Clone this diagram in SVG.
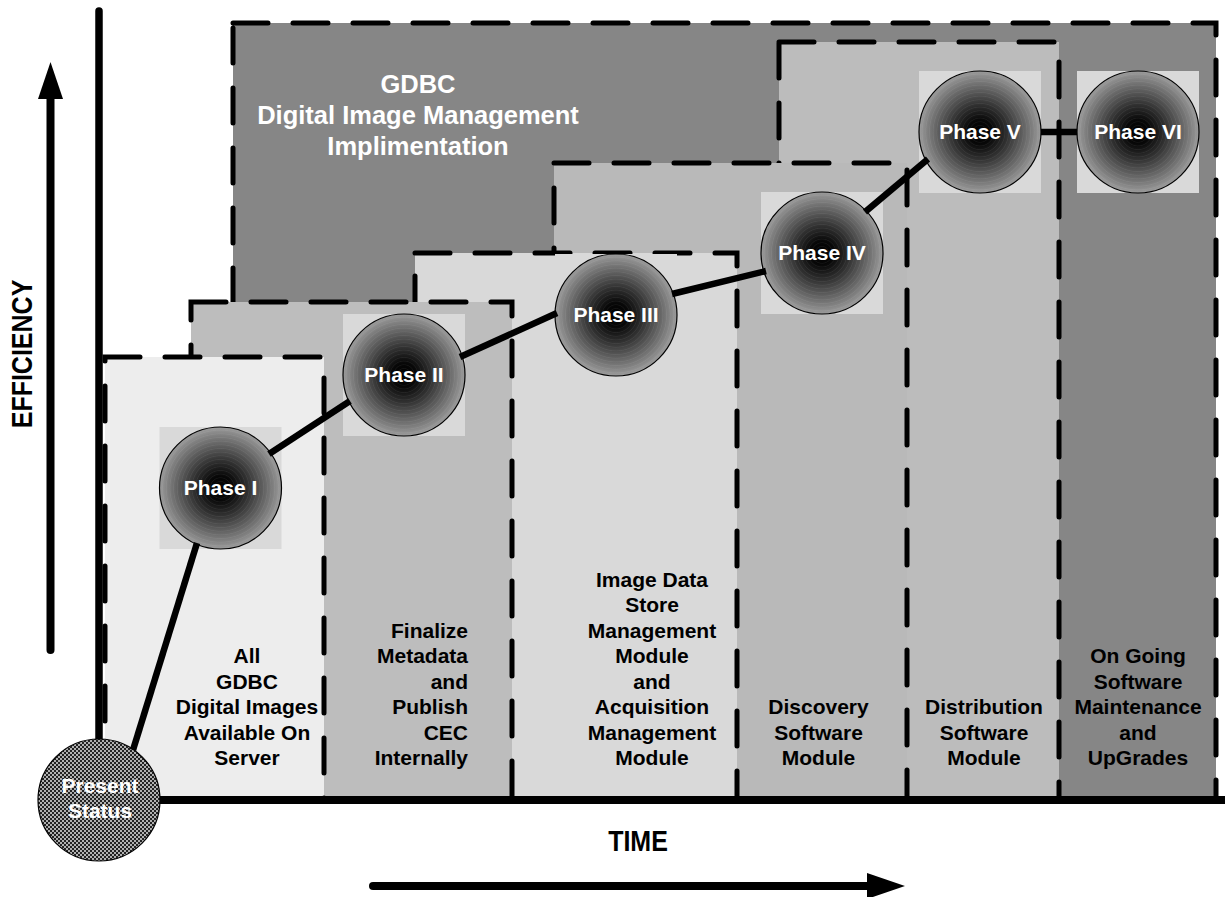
<svg xmlns="http://www.w3.org/2000/svg" width="1225" height="897" viewBox="0 0 1225 897">
<style>
.col{stroke:#000;stroke-width:5;stroke-dasharray:35 25;stroke-linecap:round}
.sq{fill:#d9d9d9}
.orb{fill:url(#orbGrad);stroke:#000;stroke-width:1.2}
.rings{fill:url(#ringGrad);stroke:none}
.ph{font-family:"Liberation Sans",Arial,sans-serif;font-weight:bold;font-size:21px;fill:#fff;text-anchor:middle}
.lbl{font-family:"Liberation Sans",Arial,sans-serif;font-weight:bold;font-size:21px;fill:#000;text-anchor:middle}
.end{text-anchor:end}
.title{font-family:"Liberation Sans",Arial,sans-serif;font-weight:bold;font-size:25.5px;fill:#fff;text-anchor:middle}
.axis{font-family:"Liberation Sans",Arial,sans-serif;font-weight:bold;font-size:25px;fill:#000;text-anchor:middle}
.conn{stroke:#000;stroke-width:6.5;stroke-linecap:butt;fill:none}
</style>
<defs>
<radialGradient id="orbGrad" cx="0.5" cy="0.5" r="0.5">
<stop offset="0" stop-color="#000"/>
<stop offset="0.2" stop-color="#080808"/>
<stop offset="0.45" stop-color="#313131"/>
<stop offset="0.7" stop-color="#606060"/>
<stop offset="0.88" stop-color="#838383"/>
<stop offset="1" stop-color="#9c9c9c"/>
</radialGradient>
<radialGradient id="ringGrad" cx="0.5" cy="0.5" r="0.03" spreadMethod="repeat">
<stop offset="0" stop-color="#fff" stop-opacity="0"/>
<stop offset="0.6" stop-color="#fff" stop-opacity="0"/>
<stop offset="0.8" stop-color="#fff" stop-opacity="0.06"/>
<stop offset="1" stop-color="#fff" stop-opacity="0"/>
</radialGradient>
<pattern id="check" width="4" height="4" patternUnits="userSpaceOnUse">
<rect width="4" height="4" fill="#b0b0b0"/>
<rect x="0" y="0" width="2" height="2" fill="#222"/>
<rect x="2" y="2" width="2" height="2" fill="#222"/>
</pattern>
</defs>

<g id="columns">
<rect class="col" x="233" y="23" width="983" height="777" fill="#868686"/>
<rect class="col" x="779" y="42" width="280" height="758" fill="#bcbcbc"/>
<rect class="col" x="554" y="163" width="353" height="637" fill="#b9b9b9"/>
<rect class="col" x="415" y="253" width="322" height="547" fill="#d9d9d9"/>
<rect class="col" x="191" y="302" width="321" height="498" fill="#bdbdbd"/>
<rect class="col" x="105" y="357" width="219" height="443" fill="#ededed"/>
</g>

<g id="title">
<text class="title" x="418" y="92.5">GDBC</text>
<text class="title" x="418" y="123.5">Digital Image Management</text>
<text class="title" x="418" y="154.5">Implimentation</text>
</g>

<g id="label-col1">
<text class="lbl" x="247" y="663">All</text>
<text class="lbl" x="247" y="688.5">GDBC</text>
<text class="lbl" x="247" y="714">Digital Images</text>
<text class="lbl" x="247" y="739.5">Available On</text>
<text class="lbl" x="247" y="765">Server</text>
</g>
<g id="label-col2">
<text class="lbl end" x="468" y="637.5">Finalize</text>
<text class="lbl end" x="468" y="663">Metadata</text>
<text class="lbl end" x="468" y="688.5">and</text>
<text class="lbl end" x="468" y="714">Publish</text>
<text class="lbl end" x="468" y="739.5">CEC</text>
<text class="lbl end" x="468" y="765">Internally</text>
</g>
<g id="label-col3">
<text class="lbl" x="652" y="586.5">Image Data</text>
<text class="lbl" x="652" y="612">Store</text>
<text class="lbl" x="652" y="637.5">Management</text>
<text class="lbl" x="652" y="663">Module</text>
<text class="lbl" x="652" y="688.5">and</text>
<text class="lbl" x="652" y="714">Acquisition</text>
<text class="lbl" x="652" y="739.5">Management</text>
<text class="lbl" x="652" y="765">Module</text>
</g>
<g id="label-col4">
<text class="lbl" x="818.5" y="714">Discovery</text>
<text class="lbl" x="818.5" y="739.5">Software</text>
<text class="lbl" x="818.5" y="765">Module</text>
</g>
<g id="label-col5">
<text class="lbl" x="984" y="714">Distribution</text>
<text class="lbl" x="984" y="739.5">Software</text>
<text class="lbl" x="984" y="765">Module</text>
</g>
<g id="label-col6">
<text class="lbl" x="1138" y="663">On Going</text>
<text class="lbl" x="1138" y="688.5">Software</text>
<text class="lbl" x="1138" y="714">Maintenance</text>
<text class="lbl" x="1138" y="739.5">and</text>
<text class="lbl" x="1138" y="765">UpGrades</text>
</g>

<g id="axes">
<line x1="99" y1="11" x2="99" y2="760" stroke="#000" stroke-width="7.5" stroke-linecap="round"/>
<line x1="140" y1="800" x2="1225" y2="800" stroke="#000" stroke-width="8"/>
<line x1="50.5" y1="95" x2="50.5" y2="650" stroke="#000" stroke-width="8" stroke-linecap="round"/>
<polygon points="50.5,62 38,99 63,99" fill="#000"/>
<line x1="373" y1="886" x2="870" y2="886" stroke="#000" stroke-width="8" stroke-linecap="round"/>
<polygon points="905,886 867,873 867,899" fill="#000"/>
<text class="axis" transform="translate(638,851) scale(1,1.16)">TIME</text>
<text class="axis" transform="translate(32,354) rotate(-90) scale(1,1.2)">EFFICIENCY</text>
</g>

<g id="phase1">
<rect class="sq" x="159.5" y="427" width="122" height="122"/>
<circle class="orb" cx="220.5" cy="488" r="61"/>
<circle class="rings" cx="220.5" cy="488" r="61"/>
<text class="ph" x="220.5" y="495">Phase I</text>
</g>
<g id="phase2">
<rect class="sq" x="343" y="314" width="122" height="122"/>
<circle class="orb" cx="404" cy="375" r="61"/>
<circle class="rings" cx="404" cy="375" r="61"/>
<text class="ph" x="404" y="382">Phase II</text>
</g>
<g id="phase3">
<rect class="sq" x="555" y="254" width="122" height="122"/>
<circle class="orb" cx="616" cy="315" r="61"/>
<circle class="rings" cx="616" cy="315" r="61"/>
<text class="ph" x="616" y="322">Phase III</text>
</g>
<g id="phase4">
<rect class="sq" x="761" y="192" width="122" height="122"/>
<circle class="orb" cx="822" cy="253" r="61"/>
<circle class="rings" cx="822" cy="253" r="61"/>
<text class="ph" x="822" y="260">Phase IV</text>
</g>
<g id="phase5">
<rect class="sq" x="919" y="71" width="122" height="122"/>
<circle class="orb" cx="980" cy="132" r="61"/>
<circle class="rings" cx="980" cy="132" r="61"/>
<text class="ph" x="980" y="139">Phase V</text>
</g>
<g id="phase6">
<rect class="sq" x="1077" y="71" width="122" height="122"/>
<circle class="orb" cx="1138" cy="132" r="61"/>
<circle class="rings" cx="1138" cy="132" r="61"/>
<text class="ph" x="1138" y="139">Phase VI</text>
</g>
<g id="present-status">
<circle cx="99" cy="800" r="61" fill="url(#check)" stroke="#000" stroke-width="1.2"/>
<text class="ph" x="100" y="793">Present</text>
<text class="ph" x="100" y="818">Status</text>
</g>

<g id="connectors" class="conn">
<line x1="133" y1="750" x2="197" y2="543"/>
<line x1="269" y1="454" x2="350" y2="401"/>
<line x1="460" y1="357" x2="557" y2="313"/>
<line x1="672" y1="294" x2="766" y2="271"/>
<line x1="865" y1="212" x2="928" y2="159"/>
<line x1="1041" y1="132" x2="1077" y2="132"/>
</g>
</svg>
